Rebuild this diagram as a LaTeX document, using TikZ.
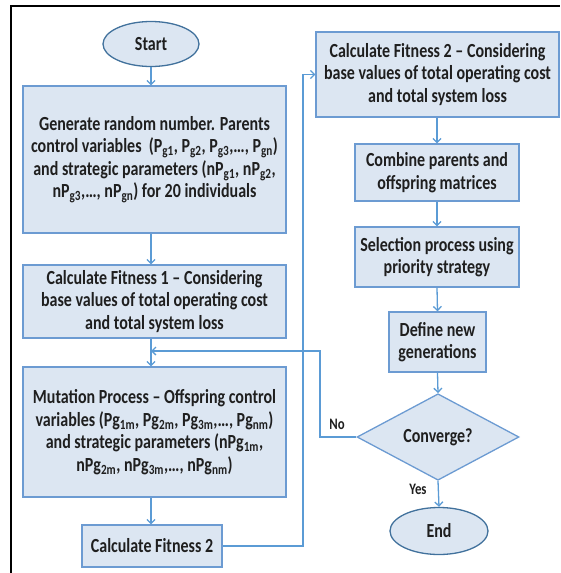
\documentclass[tikz,border=0pt]{standalone}
\usepackage{fontspec}
\setmainfont{Carlito}[FakeStretch=0.8]
\usepackage{tikz}
\usetikzlibrary{shapes.geometric}
\usetikzlibrary{arrows.meta}
\usetikzlibrary{calc}

\definecolor{boxfill}{HTML}{DCE6F2}
\definecolor{boxline}{HTML}{6C9BD2}
\definecolor{ovalline}{HTML}{41719C}
\definecolor{arrline}{HTML}{5B9BD5}

\begin{document}
\begin{tikzpicture}
  [x=1pt, y=-1pt,
   every node/.style = {font=\fontsize{20}{22.5}\selectfont\bfseries, text=black!88, align=center, inner sep=0pt},
   procbox/.style = {rectangle, draw=boxline, fill=boxfill, line width=1.3pt},
   oval/.style = {ellipse, draw=ovalline, fill=boxfill, line width=1.3pt},
   decide/.style = {diamond, draw=boxline, fill=boxfill, line width=1.3pt},
   arr/.style = {draw=arrline, line width=1.3pt, -{Straight Barb[length=4pt,width=8pt]}}]
  \useasboundingbox (0,0) rectangle (560,573);
  \draw [black, line width=2pt] (11,573) -- (11,6) -- (560,6);

  % left column
  \node [oval, minimum width=96, minimum height=45] (start) at (151, 44) {Start};
  \node [procbox, minimum width=263, minimum height=147] (gen) at (154.5, 159.5)
    {Generate random number. Parents\\
     control variables \ (P\textsubscript{g1}, P\textsubscript{g2}, P\textsubscript{g3},…, P\textsubscript{gn})\\
     and strategic parameters (nP\textsubscript{g1}, nP\textsubscript{g2},\\
     nP\textsubscript{g3},…, nP\textsubscript{gn}) for 20 individuals};
  \node [procbox, minimum width=263, minimum height=73] (fit1) at (154.5, 301.5)
    {Calculate Fitness 1 – Considering\\ base values of total operating cost\\ and total system loss};
  \node [procbox, minimum width=263, minimum height=130] (mut) at (154.5, 432)
    {Mutation Process – Offspring control\\
     variables (Pg\textsubscript{1m}, Pg\textsubscript{2m}, Pg\textsubscript{3m},…, Pg\textsubscript{nm})\\
     and strategic parameters (nPg\textsubscript{1m},\\
     nPg\textsubscript{2m}, nPg\textsubscript{3m},…, nPg\textsubscript{nm})};
  \node [procbox, minimum width=140, minimum height=42] (fit2) at (152, 546) {Calculate Fitness 2};

  % right column
  \node [procbox, minimum width=243, minimum height=85] (fit2b) at (437.5, 74.5)
    {Calculate Fitness 2 – Considering\\ base values of total operating cost\\ and total system loss};
  \node [procbox, minimum width=164, minimum height=57] (comb) at (437, 172.5)
    {Combine parents and\\ offspring matrices};
  \node [procbox, minimum width=164, minimum height=60] (sel) at (437, 257)
    {Selection process using\\ priority strategy};
  \node [procbox, minimum width=97, minimum height=60] (newgen) at (437.5, 342)
    {Define new\\ generations};
  \node [decide, minimum width=162, minimum height=78] (conv) at (438, 437) {Converge?};
  \node [oval, minimum width=98, minimum height=47] (end) at (439, 531) {End};

  \node [font=\fontsize{16}{18}\selectfont\bfseries] (no) at (337, 424) {No};
  \node [font=\fontsize{16}{18}\selectfont\bfseries] (yes) at (418, 489) {Yes};

  \coordinate (up) at (303, 546);
  \coordinate (back) at (320, 351);
  \coordinate (join) at (151, 351);

  \draw [arr] (start) -- (start |- gen.north);
  \draw [arr] (start |- gen.south) -- (start |- fit1.north);
  \draw [arr] (start |- fit1.south) -- (start |- mut.north);
  \draw [arr] (start |- mut.south) -- (start |- fit2.north);
  \draw [arr] (fit2.east) -- (up) |- (fit2b.west);
  \draw [arr] (comb |- fit2b.south) -- (comb.north);
  \draw [arr] (comb.south) -- (sel.north);
  \draw [arr] (sel.south) -- (newgen.north);
  \draw [arr] (newgen.south) -- (conv.north);
  \draw [arr] (conv.south) -- (end.north);
  \draw [arr] (conv.west) -| (back) -- (join);
\end{tikzpicture}
\end{document}
